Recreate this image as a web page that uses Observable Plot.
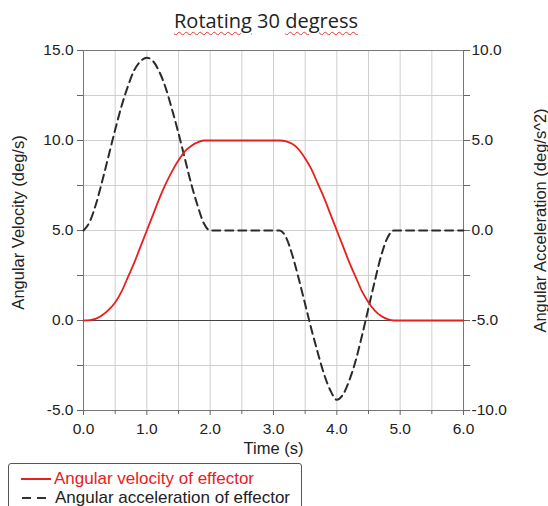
<!DOCTYPE html>
<html><head><meta charset="utf-8">
<script src="https://cdn.jsdelivr.net/npm/d3@7"></script>
<script src="https://cdn.jsdelivr.net/npm/@observablehq/plot@0.6"></script>
<style>
body{margin:0;background:#fff;font-family:"Liberation Sans",Arial,sans-serif;}
#wrap{position:relative;width:548px;height:506px;overflow:hidden;}
#title{position:absolute;left:0;width:532px;top:7px;text-align:center;font-family:"Open Sans",sans-serif;font-size:20px;color:#222;}
#title span.sp{text-decoration:underline wavy #e33;text-decoration-thickness:1px;text-underline-offset:3px;}
#chart{position:absolute;left:0;top:35px;}
#legend{position:absolute;left:8px;top:463px;width:292px;height:60px;border:1px solid #555;border-radius:3px;background:#fff;font-size:17px;}
.row{position:absolute;left:0;height:20px;display:flex;align-items:center;white-space:nowrap;}
</style></head>
<body><div id="wrap">
<div id="title"><span class="sp">Rotating</span> 30 <span class="sp">degress</span></div>
<div id="chart"></div>
<div id="legend">
 <div class="row" style="top:5px"><svg width="45" height="10"><line x1="12" x2="42" y1="5" y2="5" stroke="#e8201c" stroke-width="2"/></svg><span style="color:#e8201c">Angular velocity of effector</span></div>
 <div class="row" style="top:24px"><svg width="46" height="10"><line x1="13" x2="40" y1="5" y2="5" stroke="#333" stroke-width="2" stroke-dasharray="9,6"/></svg><span style="color:#222">Angular acceleration of effector</span></div>
</div>
</div>
<script>
const times = [0,0.1,0.2,0.3,0.4,0.5,0.6,0.7,0.8,0.9,1.0,1.1,1.2,1.3,1.4,1.5,1.6,1.7,1.8,1.9,2.0,2.1,2.2,2.3,2.4,2.5,2.6,2.7,2.8,2.9,3.0,3.1,3.2,3.3,3.4,3.5,3.6,3.7,3.8,3.9,4.0,4.1,4.2,4.3,4.4,4.5,4.6,4.7,4.8,4.9,5.0,5.1,5.2,5.3,5.4,5.5,5.6,5.7,5.8,5.9,6.0];
const velocity = [0,0.02,0.1,0.3,0.6,1.0,1.6,2.4,3.2,4.1,5.0,5.9,6.8,7.6,8.3,8.9,9.4,9.7,9.9,10,10,10,10,10,10,10,10,10,10,10,10,10,9.95,9.8,9.5,9.0,8.4,7.6,6.8,5.9,5.0,4.1,3.2,2.4,1.6,1.0,0.55,0.25,0.08,0,0,0,0,0,0,0,0,0,0,0,0];
const acceleration = [0,0.5,1.5,2.8,4.2,5.6,6.9,8.0,8.9,9.4,9.6,9.4,8.8,7.9,6.7,5.4,4.0,2.6,1.4,0.4,0,0,0,0,0,0,0,0,0,0,0,0,-0.4,-1.4,-2.7,-4.1,-5.5,-6.8,-8.0,-8.9,-9.4,-9.1,-8.3,-7.2,-5.8,-4.3,-2.8,-1.4,-0.4,0,0,0,0,0,0,0,0,0,0,0,0];
const xTicks = [0,1,2,3,4,5,6];
const xMinor = [0.5,1.5,2.5,3.5,4.5,5.5];
const yTicks = [-5,0,5,10,15];
const yMinor = [-2.5,2.5,7.5,12.5];
const accOffset = 5; // right axis = left axis - 5

const velData = times.map((t,i)=>({t, v: velocity[i]}));
const accData = times.map((t,i)=>({t, a: acceleration[i] + accOffset}));
const gridX = d3.range(0, 6.01, 0.5);
const gridY = d3.range(-5, 15.01, 2.5);

const chart = Plot.plot({
  width: 548, height: 425,
  marginTop: 15, marginBottom: 50, marginLeft: 83, marginRight: 85,
  style: {fontFamily: '"Liberation Sans", Arial, sans-serif', fontSize: "15px", color: "#222", background: "#fff"},
  x: {domain: [0, 6], label: null},
  y: {domain: [-5, 15], label: null},
  marks: [
    Plot.gridX(gridX, {stroke: "#cfcfcf", strokeOpacity: 1}),
    Plot.gridY(gridY, {stroke: "#cfcfcf", strokeOpacity: 1}),
    Plot.ruleY([0], {stroke: "#444", strokeWidth: 1}),
    Plot.frame({stroke: "#777"}),
    Plot.axisX(xTicks, {tickFormat: d => d.toFixed(1), tickSize: 5, tickPadding: 7, stroke: "#666", fontSize: 15.5}),
    Plot.axisX(xMinor, {tickSize: 4, stroke: "#666", text: null}),
    Plot.axisY(yTicks, {anchor: "left", tickFormat: d => d.toFixed(1), tickSize: 6, tickPadding: 4, stroke: "#666", fontSize: 15.5}),
    Plot.axisY(yMinor, {anchor: "left", tickSize: 6, stroke: "#666", text: null}),
    Plot.axisY(yTicks, {anchor: "right", tickFormat: d => (d - accOffset).toFixed(1), tickSize: 6, tickPadding: 2, stroke: "#666", fontSize: 15.5}),
    Plot.axisY(yMinor, {anchor: "right", tickSize: 6, stroke: "#666", text: null}),
    Plot.line(accData, {x: "t", y: "a", stroke: "#2a2a2a", strokeWidth: 2, strokeDasharray: "8,5", curve: "monotone-x"}),
    Plot.line(velData, {x: "t", y: "v", stroke: "#e8201c", strokeWidth: 1.8, curve: "monotone-x"}),
    Plot.text(["Time (s)"], {frameAnchor: "bottom", dy: 38, fontSize: 16.5, fill: "#222", textAnchor: "middle", lineAnchor: "middle"}),
    Plot.text(["Angular Velocity (deg/s)"], {frameAnchor: "left", dx: -65, dy: -8, rotate: -90, fontSize: 16.5, fill: "#222", textAnchor: "middle", lineAnchor: "middle"}),
    Plot.text(["Angular Acceleration (deg/s^2)"], {frameAnchor: "right", dx: 77, dy: -10, rotate: -90, fontSize: 16.5, fill: "#222", textAnchor: "middle", lineAnchor: "middle"})
  ]
});
document.getElementById("chart").appendChild(chart);
</script>
</body></html>
